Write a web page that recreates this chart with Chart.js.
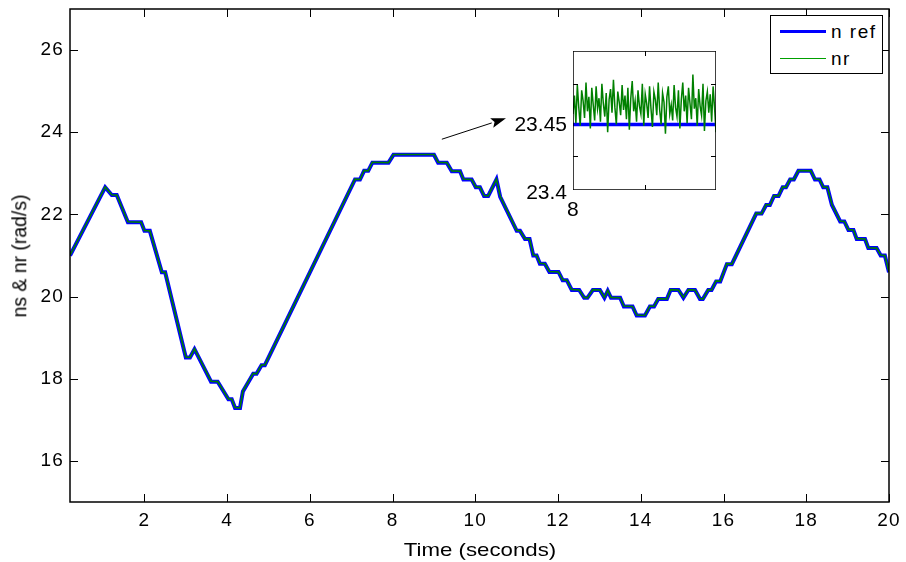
<!DOCTYPE html>
<html>
<head>
<meta charset="utf-8">
<script src="https://cdn.jsdelivr.net/npm/chart.js@4/dist/chart.umd.min.js"></script>
<style>
  html, body { margin: 0; padding: 0; background: #fff; }
  #wrap { position: relative; width: 906px; height: 562px; font-family: "Liberation Sans", Arial, sans-serif; color: #000; }
  #main { position: absolute; left: 0; top: 0; }
  #inset { position: absolute; left: 573px; top: 51px; }
  .lbl { position: absolute; white-space: nowrap; line-height: 1; }
  #xtitle { left: 480px; top: 549px; font-size: 19px; transform: translate(-50%, -50%) scaleX(1.17); }
  #ytitle { left: 20px; top: 256px; font-size: 19.4px; transform: translate(-50%, -50%) rotate(-90deg); }
  #legend { position: absolute; left: 770px; top: 15px; width: 111px; height: 57px; border: 1px solid #000; background: #fff; }
  #legend .line { position: absolute; left: 9px; width: 46px; }
  #legend .txt { position: absolute; left: 60px; font-size: 19px; line-height: 1; letter-spacing: 1.5px; }
</style>
</head>
<body>
<div id="wrap">
  <canvas id="main" width="906" height="562"></canvas>
  <canvas id="inset" width="143" height="139"></canvas>
  <div class="lbl" style="right:339px; top:113px; font-size:21px;">23.45</div>
  <div class="lbl" style="right:339px; top:181px; font-size:21px;">23.4</div>
  <div class="lbl" style="left:567px; top:198px; font-size:21px;">8</div>
  <div class="lbl" id="xtitle">Time (seconds)</div>
  <div class="lbl" id="ytitle">ns &amp; nr (rad/s)</div>
  <div id="legend">
    <div class="line" style="top:14px; height:3px; background:#0000ff;"></div>
    <div class="txt" style="top:6px;">n ref</div>
    <div class="line" style="top:42px; height:1px; background:#00a000;"></div>
    <div class="txt" style="top:33px;">nr</div>
  </div>
</div>
<script>
// main plot data (time in seconds, speed in rad/s)
const time = [0.2, 1.05, 1.21, 1.33, 1.60, 1.92, 2.00, 2.13, 2.42, 2.50,
  3.00, 3.10, 3.21, 3.61, 3.77, 4.03, 4.11, 4.19, 4.31, 4.38,
  4.63, 4.71, 4.83, 4.91, 7.09, 7.21, 7.31, 7.41, 7.51, 7.90,
  8.02, 9.00, 9.10, 9.31, 9.43, 9.63, 9.71, 9.91, 10.01, 10.11,
  10.21, 10.31, 10.51, 10.60, 11.00, 11.08, 11.20, 11.31, 11.40, 11.48,
  11.56, 11.68, 11.79, 12.01, 12.11, 12.21, 12.33, 12.51, 12.63, 12.71,
  12.84, 13.01, 13.12, 13.20, 13.28, 13.50, 13.59, 13.80, 13.90, 14.10,
  14.22, 14.32, 14.42, 14.63, 14.72, 14.91, 15.03, 15.15, 15.31, 15.43,
  15.50, 15.63, 15.71, 15.82, 15.92, 16.08, 16.20, 16.79, 16.92, 17.03,
  17.12, 17.22, 17.33, 17.43, 17.51, 17.61, 17.70, 17.81, 18.11, 18.21,
  18.32, 18.41, 18.51, 18.62, 18.82, 18.92, 19.02, 19.14, 19.22, 19.42,
  19.50, 19.70, 19.80, 19.90, 20.0];

const nRef = [21.0, 22.66, 22.47, 22.47, 21.81, 21.81, 21.6, 21.6, 20.59, 20.59,
  18.52, 18.52, 18.72, 17.93, 17.93, 17.5, 17.5, 17.29, 17.29, 17.69,
  18.12, 18.12, 18.33, 18.33, 22.85, 22.85, 23.06, 23.06, 23.26, 23.26,
  23.45, 23.45, 23.26, 23.26, 23.05, 23.05, 22.85, 22.85, 22.66, 22.66,
  22.45, 22.45, 22.85, 22.43, 21.6, 21.6, 21.4, 21.4, 21.0, 21.0,
  20.8, 20.8, 20.6, 20.6, 20.4, 20.4, 20.16, 20.16, 19.97, 19.97,
  20.16, 20.16, 19.97, 20.14, 19.97, 19.97, 19.76, 19.76, 19.54, 19.54,
  19.76, 19.76, 19.94, 19.94, 20.16, 20.16, 19.97, 20.16, 20.16, 19.94,
  19.94, 20.16, 20.16, 20.37, 20.37, 20.79, 20.79, 22.02, 22.02, 22.23,
  22.23, 22.45, 22.45, 22.66, 22.66, 22.85, 22.85, 23.06, 23.06, 22.85,
  22.85, 22.66, 22.66, 22.23, 21.83, 21.83, 21.62, 21.62, 21.4, 21.4,
  21.18, 21.18, 21.0, 21.0, 20.59];

const nr = [21.0, 22.67, 22.48, 22.47, 21.82, 21.81, 21.61, 21.6, 20.6, 20.59,
  18.53, 18.52, 18.73, 17.94, 17.93, 17.51, 17.5, 17.3, 17.29, 17.7,
  18.13, 18.12, 18.34, 18.33, 22.86, 22.85, 23.07, 23.06, 23.27, 23.26,
  23.46, 23.46, 23.27, 23.26, 23.06, 23.05, 22.86, 22.85, 22.67, 22.66,
  22.46, 22.45, 22.86, 22.44, 21.61, 21.6, 21.41, 21.4, 21.01, 21.0,
  20.81, 20.8, 20.61, 20.6, 20.41, 20.4, 20.17, 20.16, 19.98, 19.97,
  20.17, 20.16, 19.98, 20.15, 19.98, 19.97, 19.77, 19.76, 19.55, 19.54,
  19.77, 19.76, 19.95, 19.94, 20.17, 20.16, 19.98, 20.17, 20.16, 19.95,
  19.94, 20.17, 20.16, 20.38, 20.37, 20.8, 20.79, 22.03, 22.02, 22.24,
  22.23, 22.46, 22.45, 22.67, 22.66, 22.86, 22.85, 23.07, 23.06, 22.86,
  22.85, 22.67, 22.66, 22.24, 21.84, 21.83, 21.63, 21.62, 21.41, 21.4,
  21.19, 21.18, 21.01, 21.0, 20.6];

const xTicks = [2, 4, 6, 8, 10, 12, 14, 16, 18, 20];
const yTicks = [16, 18, 20, 22, 24, 26];

// zoomed inset, 8 s .. 9 s
const insetStart = 8;
const insetStep = 0.01;
const insetRefTime = [8, 9];
const insetRef = [23.45, 23.45];
const insetNr = [23.458, 23.472, 23.451, 23.480, 23.463, 23.449, 23.476, 23.468, 23.455, 23.482,
  23.460, 23.471, 23.447, 23.478, 23.465, 23.453, 23.479, 23.462, 23.470, 23.452,
  23.481, 23.466, 23.456, 23.474, 23.444, 23.469, 23.477, 23.459, 23.484, 23.463,
  23.450, 23.475, 23.467, 23.457, 23.480, 23.461, 23.472, 23.454, 23.478, 23.446,
  23.470, 23.483, 23.460, 23.468, 23.452, 23.476, 23.464, 23.458, 23.481, 23.449,
  23.473, 23.466, 23.455, 23.479, 23.462, 23.448, 23.475, 23.469, 23.457, 23.482,
  23.461, 23.450, 23.474, 23.467, 23.443, 23.471, 23.479, 23.458, 23.465, 23.453,
  23.480, 23.463, 23.456, 23.476, 23.447, 23.469, 23.482, 23.460, 23.472, 23.451,
  23.478, 23.466, 23.454, 23.488, 23.462, 23.470, 23.449, 23.477, 23.464, 23.457,
  23.481, 23.445, 23.468, 23.475, 23.459, 23.473, 23.452, 23.479, 23.463, 23.444];
const insetXTicks = [8.5];
const insetYTicks = [23.426, 23.481];

// annotation arrow, in data units of the main plot
const arrowFrom = {x: 9.19, y: 23.83};
const arrowTo = {x: 10.74, y: 24.34};

const FONT = '"Liberation Sans", Arial, sans-serif';

// the reference text is a little wider than plain Arial
const wideText = {
  id: 'wideText',
  beforeDraw(chart) { chart.ctx.letterSpacing = '1.2px'; }
};

// matlab style box with ticks pointing inwards
function boxTicks(xVals, yVals, len) {
  return {
    id: 'boxTicks',
    afterDatasetsDraw(chart) {
      const {ctx, chartArea: a} = chart;
      const sx = chart.scales.x, sy = chart.scales.y;
      ctx.save();
      ctx.strokeStyle = '#000';
      ctx.lineWidth = 1;
      ctx.beginPath();
      xVals.forEach(v => {
        const px = Math.round(sx.getPixelForValue(v)) + 0.5;
        ctx.moveTo(px, a.bottom); ctx.lineTo(px, a.bottom - len);
        ctx.moveTo(px, a.top); ctx.lineTo(px, a.top + len);
      });
      yVals.forEach(v => {
        const py = Math.round(sy.getPixelForValue(v)) + 0.5;
        ctx.moveTo(a.left, py); ctx.lineTo(a.left + len, py);
        ctx.moveTo(a.right, py); ctx.lineTo(a.right - len, py);
      });
      ctx.stroke();
      ctx.lineWidth = 1.5;
      ctx.strokeRect(a.left, a.top, a.right - a.left, a.bottom - a.top);
      ctx.restore();
    }
  };
}

const arrowPlugin = {
  id: 'arrow',
  afterDatasetsDraw(chart) {
    const {ctx} = chart;
    const sx = chart.scales.x, sy = chart.scales.y;
    const x0 = sx.getPixelForValue(arrowFrom.x), y0 = sy.getPixelForValue(arrowFrom.y);
    const x1 = sx.getPixelForValue(arrowTo.x), y1 = sy.getPixelForValue(arrowTo.y);
    const ang = Math.atan2(y1 - y0, x1 - x0);
    const hl = 15, hw = 5;
    ctx.save();
    ctx.strokeStyle = '#000';
    ctx.fillStyle = '#000';
    ctx.lineWidth = 1;
    ctx.beginPath();
    ctx.moveTo(x0, y0);
    ctx.lineTo(x1 - hl * Math.cos(ang), y1 - hl * Math.sin(ang));
    ctx.stroke();
    ctx.beginPath();
    ctx.moveTo(x1, y1);
    ctx.lineTo(x1 - hl * Math.cos(ang) + hw * Math.sin(ang), y1 - hl * Math.sin(ang) - hw * Math.cos(ang));
    ctx.lineTo(x1 - hl * 0.8 * Math.cos(ang), y1 - hl * 0.8 * Math.sin(ang));
    ctx.lineTo(x1 - hl * Math.cos(ang) - hw * Math.sin(ang), y1 - hl * Math.sin(ang) + hw * Math.cos(ang));
    ctx.closePath();
    ctx.fill();
    ctx.restore();
  }
};

const mainChart = new Chart(document.getElementById('main'), {
  type: 'line',
  data: {
    datasets: [
      {
        label: 'nr',
        data: time.map((t, i) => ({x: t, y: nr[i]})),
        borderColor: '#008000',
        borderWidth: 1.6,
        pointRadius: 0,
        tension: 0,
        order: 0
      },
      {
        label: 'n ref',
        data: time.map((t, i) => ({x: t, y: nRef[i]})),
        borderColor: '#0000ff',
        borderWidth: 4,
        pointRadius: 0,
        tension: 0,
        order: 1
      }
    ]
  },
  options: {
    responsive: false,
    animation: false,
    layout: {padding: {top: 9, right: 17, left: 0, bottom: 0}},
    plugins: {legend: {display: false}, tooltip: {enabled: false}},
    scales: {
      x: {
        type: 'linear',
        min: 0.2,
        max: 20,
        afterBuildTicks: s => { s.ticks = xTicks.map(v => ({value: v})); },
        afterFit: s => { s.height = 60; s.paddingLeft = 0; s.paddingRight = 0; },
        grid: {display: false, drawTicks: false},
        border: {display: false},
        ticks: {color: '#000', font: {family: FONT, size: 19}, padding: 7, maxRotation: 0, autoSkip: false},
        title: {display: false}
      },
      y: {
        min: 15,
        max: 27,
        afterBuildTicks: s => { s.ticks = yTicks.map(v => ({value: v})); },
        afterFit: s => { s.width = 70; s.paddingTop = 0; s.paddingBottom = 0; },
        grid: {display: false, drawTicks: false},
        border: {display: false},
        ticks: {color: '#000', font: {family: FONT, size: 19}, padding: 6, autoSkip: false},
        title: {display: false}
      }
    }
  },
  plugins: [wideText, boxTicks(xTicks, yTicks, 8), arrowPlugin]
});

const insetChart = new Chart(document.getElementById('inset'), {
  type: 'line',
  data: {
    datasets: [
      {
        label: 'nr',
        data: insetNr.map((v, i) => ({x: insetStart + i * insetStep, y: v})),
        borderColor: '#008000',
        borderWidth: 1.5,
        pointRadius: 0,
        tension: 0,
        order: 0
      },
      {
        label: 'n ref',
        data: insetRefTime.map((t, i) => ({x: t, y: insetRef[i]})),
        borderColor: '#0000ff',
        borderWidth: 3.5,
        pointRadius: 0,
        tension: 0,
        order: 1
      }
    ]
  },
  options: {
    responsive: false,
    animation: false,
    layout: {padding: 0},
    plugins: {legend: {display: false}, tooltip: {enabled: false}},
    scales: {
      x: {type: 'linear', min: 8, max: 8.99, display: false},
      y: {min: 23.4, max: 23.506, display: false}
    }
  },
  plugins: [boxTicks(insetXTicks, insetYTicks, 5)]
});
</script>
</body>
</html>
